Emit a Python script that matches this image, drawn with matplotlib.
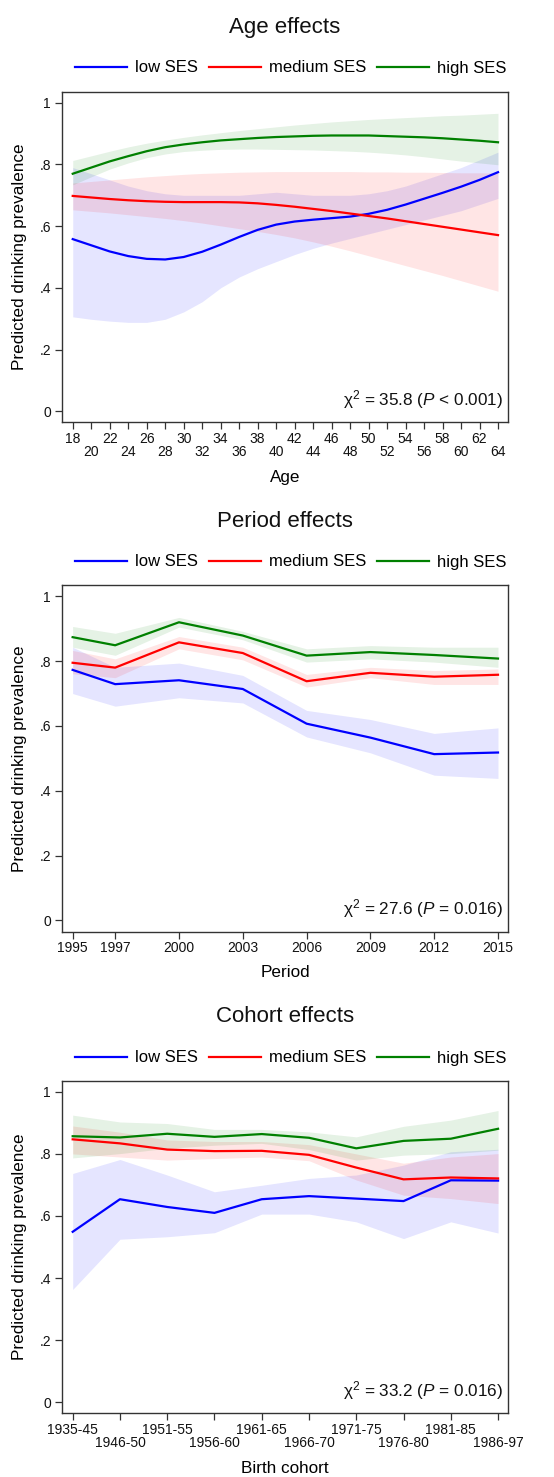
import numpy as np
import matplotlib
matplotlib.use('Agg')  # no display in the sandbox
import matplotlib.pyplot as plt

plt.rcParams['font.family'] = ['Liberation Sans', 'DejaVu Sans']
plt.rcParams['mathtext.fontset'] = 'custom'
plt.rcParams['mathtext.rm'] = 'Liberation Sans'
plt.rcParams['mathtext.it'] = 'Liberation Sans:italic'

# ---- Age panel data ----
ages = [18, 20, 22, 24, 26, 28, 30, 32, 34, 36, 38, 40, 42, 44, 46, 48, 50, 52, 54, 56, 58, 60, 62, 64]
age_low = [0.558, 0.538, 0.518, 0.503, 0.494, 0.492, 0.500, 0.517, 0.540, 0.565, 0.588, 0.605,
           0.615, 0.621, 0.626, 0.631, 0.640, 0.653, 0.670, 0.689, 0.708, 0.728, 0.750, 0.775]
age_low_lo = [0.306, 0.298, 0.292, 0.288, 0.288, 0.298, 0.322, 0.355, 0.400, 0.435, 0.462, 0.485,
              0.508, 0.528, 0.545, 0.560, 0.575, 0.590, 0.605, 0.620, 0.635, 0.650, 0.670, 0.690]
age_low_hi = [0.790, 0.770, 0.750, 0.730, 0.715, 0.705, 0.700, 0.700, 0.700, 0.700, 0.705, 0.710,
              0.705, 0.700, 0.700, 0.700, 0.705, 0.715, 0.730, 0.750, 0.770, 0.790, 0.815, 0.840]
age_med = [0.698, 0.693, 0.688, 0.684, 0.681, 0.679, 0.678, 0.678, 0.678, 0.677, 0.674, 0.669,
           0.663, 0.656, 0.649, 0.641, 0.633, 0.625, 0.616, 0.607, 0.598, 0.589, 0.580, 0.571]
age_med_lo = [0.653, 0.648, 0.643, 0.637, 0.631, 0.625, 0.618, 0.610, 0.601, 0.592, 0.583, 0.573,
              0.562, 0.549, 0.535, 0.520, 0.504, 0.488, 0.472, 0.456, 0.440, 0.423, 0.406, 0.389]
age_med_hi = [0.740, 0.745, 0.750, 0.755, 0.760, 0.764, 0.768, 0.771, 0.773, 0.775, 0.776, 0.777,
              0.777, 0.777, 0.777, 0.777, 0.776, 0.776, 0.775, 0.775, 0.774, 0.773, 0.773, 0.772]
age_high = [0.770, 0.790, 0.810, 0.827, 0.843, 0.856, 0.865, 0.872, 0.878, 0.882, 0.886, 0.889,
            0.891, 0.893, 0.894, 0.894, 0.894, 0.892, 0.890, 0.888, 0.885, 0.881, 0.877, 0.872]
age_high_lo = [0.734, 0.760, 0.785, 0.805, 0.822, 0.834, 0.842, 0.846, 0.849, 0.850, 0.850, 0.849,
               0.848, 0.847, 0.845, 0.843, 0.840, 0.836, 0.831, 0.825, 0.818, 0.811, 0.805, 0.799]
age_high_hi = [0.813, 0.828, 0.843, 0.857, 0.869, 0.879, 0.888, 0.896, 0.903, 0.910, 0.916, 0.922,
               0.928, 0.933, 0.938, 0.942, 0.946, 0.949, 0.952, 0.955, 0.958, 0.960, 0.963, 0.966]

# ---- Period panel data ----
years = [1995, 1997, 2000, 2003, 2006, 2009, 2012, 2015]
per_low = [0.773, 0.729, 0.741, 0.714, 0.607, 0.564, 0.513, 0.518]
per_low_lo = [0.700, 0.661, 0.687, 0.671, 0.566, 0.517, 0.448, 0.438]
per_low_hi = [0.843, 0.781, 0.794, 0.756, 0.648, 0.620, 0.577, 0.594]
per_med = [0.795, 0.780, 0.858, 0.825, 0.738, 0.764, 0.752, 0.758]
per_med_lo = [0.761, 0.749, 0.838, 0.804, 0.720, 0.749, 0.728, 0.728]
per_med_hi = [0.833, 0.807, 0.876, 0.843, 0.759, 0.781, 0.771, 0.776]
per_high = [0.874, 0.849, 0.920, 0.879, 0.817, 0.828, 0.819, 0.808]
per_high_lo = [0.843, 0.818, 0.905, 0.866, 0.797, 0.807, 0.797, 0.781]
per_high_hi = [0.907, 0.886, 0.935, 0.892, 0.838, 0.848, 0.843, 0.843]

# ---- Cohort panel data ----
cohorts = ['1935-45', '1946-50', '1951-55', '1956-60', '1961-65',
           '1966-70', '1971-75', '1976-80', '1981-85', '1986-97']
coh_low = [0.549, 0.654, 0.629, 0.610, 0.654, 0.664, 0.656, 0.648, 0.715, 0.714]
coh_low_lo = [0.363, 0.525, 0.533, 0.546, 0.606, 0.606, 0.581, 0.527, 0.581, 0.545]
coh_low_hi = [0.737, 0.782, 0.732, 0.678, 0.699, 0.721, 0.732, 0.764, 0.807, 0.815]
coh_med = [0.847, 0.834, 0.814, 0.809, 0.810, 0.797, 0.756, 0.718, 0.724, 0.721]
coh_med_lo = [0.800, 0.790, 0.780, 0.785, 0.790, 0.778, 0.716, 0.667, 0.656, 0.640]
coh_med_hi = [0.890, 0.870, 0.845, 0.840, 0.840, 0.830, 0.800, 0.770, 0.790, 0.801]
coh_high = [0.857, 0.853, 0.865, 0.855, 0.864, 0.852, 0.818, 0.842, 0.849, 0.881]
coh_high_lo = [0.787, 0.801, 0.818, 0.828, 0.834, 0.814, 0.780, 0.796, 0.801, 0.812]
coh_high_hi = [0.925, 0.903, 0.898, 0.879, 0.879, 0.871, 0.855, 0.889, 0.909, 0.940]

ses_labels = ['low SES', 'medium SES', 'high SES']
ses_colors = ['#0000ff', '#ff0000', '#008000']
y_ticks = [0, 0.2, 0.4, 0.6, 0.8, 1.0]
y_ticklabels = ['0', '.2', '.4', '.6', '.8', '1']
axis_color = '#333333'

W, H = 554, 1477
fig = plt.figure(figsize=(W / 100, H / 100), dpi=100)


def px_axes(top, bottom, left=62, right=508):
    # axes placed from pixel edges of the reference
    return fig.add_axes([left / W, 1 - bottom / H, (right - left) / W, (bottom - top) / H])


def draw_panel(ax, x, series, title, title_y, legend_y, chi_text, xlabel, xlabel_y):
    for (mid, lo, hi), color in zip(series, ses_colors):
        ax.fill_between(x, lo, hi, color=color, alpha=0.1, linewidth=0)
    handles = []
    for (mid, lo, hi), color, label in zip(series, ses_colors, ses_labels):
        h, = ax.plot(x, mid, color=color, linewidth=1.6, label=label)
        handles.append(h)

    ax.set_ylim(-0.035, 1.035)
    ax.set_yticks(y_ticks)
    ax.set_yticklabels(y_ticklabels)
    ax.set_ylabel('Predicted drinking prevalence', fontsize=12.3)
    ax.yaxis.set_label_coords(-0.078, 0.5)
    ax.set_xlabel(xlabel, fontsize=12.3)
    ax.xaxis.set_label_coords(0.5, xlabel_y)

    for sp in ax.spines.values():
        sp.set_color(axis_color)
        sp.set_linewidth(1.0)
    ax.tick_params(axis='both', which='both', direction='out', length=5, width=0.9,
                   color=axis_color, labelsize=10, labelcolor='#111111')
    ax.tick_params(axis='y', pad=3)
    ax.tick_params(axis='x', which='major', pad=2)

    ax.text(0.989, 0.067, chi_text, transform=ax.transAxes, ha='right', va='center',
            fontsize=12.3, color='#111111')

    fig.text(0.5 * (62 + 508) / W, 1 - title_y / H, title, ha='center', va='center',
             fontsize=16, color='#111111')
    fig.legend(handles=handles, loc='center', bbox_to_anchor=(291 / W, 1 - legend_y / H),
               ncol=3, frameon=False, fontsize=12, handlelength=3.1, handletextpad=0.5,
               columnspacing=0.66, borderpad=0, borderaxespad=0)


# Age effects
ax1 = px_axes(92, 422)
draw_panel(ax1, ages,
           [(age_low, age_low_lo, age_low_hi), (age_med, age_med_lo, age_med_hi),
            (age_high, age_high_lo, age_high_hi)],
           'Age effects', 27, 68, 'χ$^2$ = 35.8 ($P$ < 0.001)', 'Age', -0.145)
ax1.set_xlim(16.84, 65.08)
ax1.set_xticks(ages[0::2])
ax1.set_xticks(ages[1::2], minor=True)
ax1.set_xticklabels([str(a) for a in ages[0::2]])
ax1.set_xticklabels([str(a) for a in ages[1::2]], minor=True)
ax1.tick_params(axis='x', which='minor', pad=11.5)

# Period effects
ax2 = px_axes(585, 931.7)
draw_panel(ax2, years,
           [(per_low, per_low_lo, per_low_hi), (per_med, per_med_lo, per_med_hi),
            (per_high, per_high_lo, per_high_hi)],
           'Period effects', 522, 562, 'χ$^2$ = 27.6 ($P$ = 0.016)', 'Period', -0.095)
ax2.set_xlim(1994.5, 2015.47)
ax2.set_xticks(years)
ax2.set_xticklabels([str(y) for y in years])

# Cohort effects
ax3 = px_axes(1081, 1413)
idx = np.arange(len(cohorts))
draw_panel(ax3, idx,
           [(coh_low, coh_low_lo, coh_low_hi), (coh_med, coh_med_lo, coh_med_hi),
            (coh_high, coh_high_lo, coh_high_hi)],
           'Cohort effects', 1017, 1058, 'χ$^2$ = 33.2 ($P$ = 0.016)', 'Birth cohort', -0.1446)
ax3.set_xlim(-0.226, 9.21)
ax3.set_xticks(idx[0::2])
ax3.set_xticks(idx[1::2], minor=True)
ax3.set_xticklabels(cohorts[0::2])
ax3.set_xticklabels(cohorts[1::2], minor=True)
ax3.tick_params(axis='x', which='minor', pad=11.5)

fig.savefig('out.png', dpi=100, facecolor='white')
